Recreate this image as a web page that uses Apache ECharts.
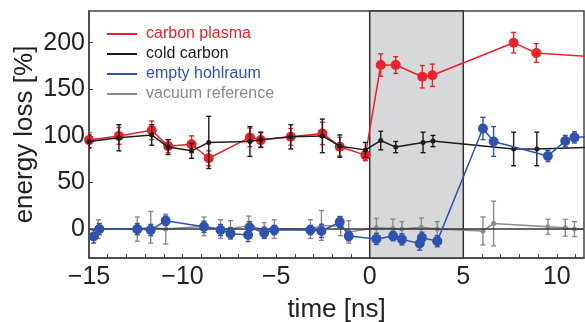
<!DOCTYPE html>
<html>
<head>
<meta charset="utf-8">
<script src="https://cdn.jsdelivr.net/npm/echarts@6/dist/echarts.min.js"></script>
<style>
  html, body { margin: 0; padding: 0; background: #fff; }
  #chart { width: 585px; height: 322px; }
</style>
</head>
<body>
<div id="chart"></div>
<script>
// carbon plasma
const plasmaX = [-15, -13.4, -11.65, -10.77, -9.52, -8.6, -6.4, -5.82, -4.22, -2.53, -1.6, -0.23, 0.59, 1.39, 2.81, 3.35, 7.69, 8.9, 12.5];
const plasmaY = [95.5, 100, 106, 89, 91, 76, 98.4, 95.5, 99, 102.7, 88.4, 79.4, 176, 176, 163.5, 165, 200, 189, 184];
const plasmaErr = [8, 9, 10, 7, 9, 8, 10, 8, 9, 12, 10, 6, 12, 9, 12, 12, 11, 10, 10];

// cold carbon
const coldX = [-15, -13.4, -11.65, -10.77, -9.52, -8.6, -6.4, -5.82, -4.22, -2.53, -1.6, -0.23, 0.59, 1.39, 2.85, 3.38, 7.69, 8.93, 12.5];
const coldY = [94, 98, 101, 88, 84, 93, 94, 96, 99, 100, 89, 85, 95, 88, 93, 94.5, 86, 86, 88];
const coldErr = [7, 14, 11, 8, 8, 28, 16, 8, 13, 18, 12, 8, 10, 6, 11, 6, 18, 18, 10];

// empty hohlraum
const emptyX = [-14.75, -14.45, -12.42, -11.7, -10.9, -8.86, -7.97, -7.44, -6.5, -6.42, -5.64, -5.1, -3.17, -2.58, -1.6, -1.12, 0.36, 1.25, 1.72, 2.67, 2.79, 3.61, 6.05, 6.62, 9.52, 10.45, 10.94, 12.5];
const emptyY = [-8, 0, 0, -1, 9, 2.5, -1, -4.6, -6.4, 2, -4, -1, -1, -2, 7.5, -7.5, -10.5, -7.5, -11, -15.5, -9.3, -12.9, 108, 94, 78.5, 94.5, 98.4, 100];
const emptyErr = [7, 6, 6, 6, 5, 6, 6, 6, 7, 6, 6, 5, 5, 7, 6, 5, 6, 5, 6, 7, 6, 6, 12, 16, 6, 6, 6, 6];

// vacuum reference
const vacX = [-14.5, -12.42, -11.7, -10.9, -8.86, -7.97, -7.44, -6.46, -5.64, -5.1, -3.17, -2.58, -1.55, -1.12, 0.36, 1.24, 1.72, 2.76, 3.61, 6.05, 6.62, 9.52, 10.45, 10.94, 12.5];
const vacY = [0, 0, 2, 0, 3, 0, 0, 4, -1, 0, 0, 4, 3, -3, 1.5, 0.7, 0, 2, 0, -2, 6, 2.5, 1.4, 0, 0];
const vacErr = [10, 13, 17, 16, 10, 10, 9, 10, 8, 10, 10, 16, 10, 12, 10, 10, 8, 10, 8, 15, 24, 8, 9, 8, 8];

const xTicks = [-15, -10, -5, 0, 5, 10];
const yTicks = [0, 50, 100, 150, 200];
const shadeRange = [0, 5];

const names = ['carbon plasma', 'cold carbon', 'empty hohlraum', 'vacuum reference'];
const colors = ['#e8232b', '#1c1c1c', '#2e52ad', '#8a8a8a'];

const font = 'Liberation Sans, Arial, Helvetica, sans-serif';

const pts = (xs, ys) => xs.map((x, i) => [x, ys[i]]);
const bars = (xs, ys, es) => xs.map((x, i) => [x, ys[i] - es[i], ys[i] + es[i]]);

function errSeries(name, data, color, z) {
  return {
    name: name,
    type: 'custom',
    z: z,
    clip: true,
    silent: true,
    data: data,
    renderItem: (params, api) => {
      const x = api.value(0);
      const lo = api.coord([x, api.value(1)]);
      const hi = api.coord([x, api.value(2)]);
      const c = 2.5;
      const st = { stroke: color, lineWidth: 1.4 };
      return {
        type: 'group',
        children: [
          { type: 'line', shape: { x1: lo[0], y1: lo[1], x2: hi[0], y2: hi[1] }, style: st },
          { type: 'line', shape: { x1: lo[0] - c, y1: lo[1], x2: lo[0] + c, y2: lo[1] }, style: st },
          { type: 'line', shape: { x1: hi[0] - c, y1: hi[1], x2: hi[0] + c, y2: hi[1] }, style: st }
        ]
      };
    }
  };
}

function lineSeries(name, data, color, size, z) {
  return {
    name: name,
    type: 'line',
    z: z,
    clip: true,
    data: data,
    symbol: 'circle',
    symbolSize: size,
    showSymbol: true,
    itemStyle: { color: color },
    lineStyle: { color: color, width: 1.5 },
    emphasis: { disabled: true },
    animation: false
  };
}

const chart = echarts.init(document.getElementById('chart'));

chart.setOption({
  animation: false,
  grid: {
    left: 89, right: 1, top: 11, bottom: 64,
    outerBoundsMode: 'none',
    show: true, borderColor: '#444', borderWidth: 1.5, backgroundColor: 'transparent'
  },
  legend: {
    data: names.map((n, i) => ({ name: n, textStyle: { color: colors[i] } })),
    orient: 'vertical',
    left: 102,
    top: 19,
    icon: 'rect',
    itemWidth: 30,
    itemHeight: 2,
    itemGap: 0,
    selectedMode: false,
    textStyle: { fontFamily: font, fontSize: 16, lineHeight: 20, padding: [0, 0, 0, 4] }
  },
  xAxis: {
    type: 'value',
    min: -15,
    max: 11.45,
    name: 'time [ns]',
    nameLocation: 'middle',
    nameGap: 39,
    nameMoveOverlap: false,
    nameTextStyle: { fontFamily: font, fontSize: 26, color: '#222' },
    axisLine: { show: true, onZero: false, lineStyle: { color: '#444', width: 1.5 } },
    axisTick: {
      show: true, inside: true, length: 4,
      customValues: Array.from({ length: 27 }, (_, i) => i - 15),
      lineStyle: { color: '#444' }
    },
    axisLabel: {
      customValues: xTicks,
      fontFamily: font, fontSize: 25, color: '#222', margin: 7,
      formatter: v => String(v).replace('-', '\u2212')
    },
    splitLine: { show: false }
  },
  yAxis: {
    type: 'value',
    min: -31,
    max: 234,
    name: 'energy loss [%]',
    nameLocation: 'middle',
    nameGap: 51,
    nameMoveOverlap: false,
    nameTextStyle: { fontFamily: font, fontSize: 26, color: '#222' },
    axisLine: { show: true, onZero: false, lineStyle: { color: '#444', width: 1.5 } },
    axisTick: {
      show: true, inside: true, length: 4,
      customValues: yTicks,
      lineStyle: { color: '#444' }
    },
    axisLabel: {
      customValues: yTicks,
      fontFamily: font, fontSize: 25, color: '#222', margin: 4
    },
    splitLine: { show: false }
  },
  series: [
    {
      name: 'band',
      type: 'line',
      z: 0,
      data: [],
      markArea: {
        silent: true,
        itemStyle: { color: '#d6d8da', borderColor: '#333', borderWidth: 1.5 },
        data: [[{ xAxis: shadeRange[0] }, { xAxis: shadeRange[1] }]]
      }
    },
    errSeries('plasmaErr', bars(plasmaX, plasmaY, plasmaErr), colors[0], 2),
    lineSeries(names[0], pts(plasmaX, plasmaY), colors[0], 10, 2),
    errSeries('coldErr', bars(coldX, coldY, coldErr), colors[1], 3),
    lineSeries(names[1], pts(coldX, coldY), colors[1], 5, 3),
    errSeries('vacErr', bars(vacX, vacY, vacErr), colors[3], 4),
    Object.assign(lineSeries(names[3], pts(vacX, vacY), colors[3], 5, 4), {
      markLine: {
        silent: true,
        symbol: 'none',
        label: { show: false },
        lineStyle: { color: '#333', width: 1.5, type: 'solid' },
        data: [{ yAxis: 0 }]
      }
    }),
    errSeries('emptyErr', bars(emptyX, emptyY, emptyErr), colors[2], 5),
    lineSeries(names[2], pts(emptyX, emptyY), colors[2], 10, 5)
  ]
});
</script>
</body>
</html>
